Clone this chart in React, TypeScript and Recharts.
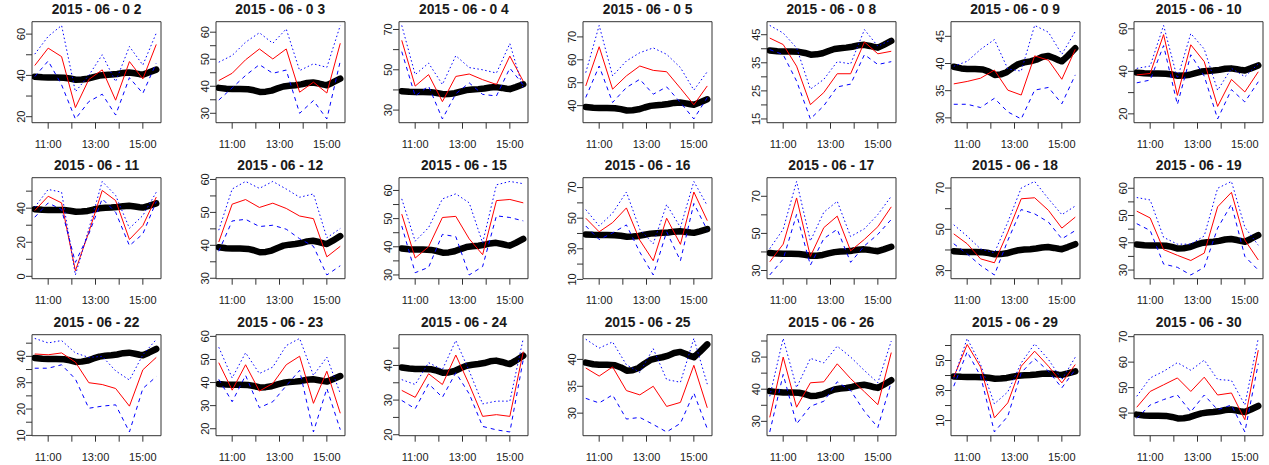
import { LineChart, Line, XAxis, YAxis, ReferenceArea } from 'recharts';

// 21 daily panels (R-style small multiples): red = daily value, blue dotted/dashed =
// upper/lower band, thick black = the common reference curve shared by every panel.

const TITLES = [
  '2015 - 06 - 0 2', '2015 - 06 - 0 3', '2015 - 06 - 0 4', '2015 - 06 - 0 5', '2015 - 06 - 0 8', '2015 - 06 - 0 9', '2015 - 06 - 10',
  '2015 - 06 - 11', '2015 - 06 - 12', '2015 - 06 - 15', '2015 - 06 - 16', '2015 - 06 - 17', '2015 - 06 - 18', '2015 - 06 - 19',
  '2015 - 06 - 22', '2015 - 06 - 23', '2015 - 06 - 24', '2015 - 06 - 25', '2015 - 06 - 26', '2015 - 06 - 29', '2015 - 06 - 30',
];

// minutes since midnight
const TIMES = [626, 660, 694, 729, 763, 797, 831, 866, 900, 934];
const X_MIN = 619;
const X_MAX = 946;
const X_TICKS = [660, 720, 780, 840, 900];
const X_TICK_LABELS = ['11:00', '', '13:00', '', '15:00'];

const MEAN_TIMES = [626, 645, 660, 680, 700, 715, 730, 745, 760, 775, 790, 805, 820, 835, 850, 865, 880, 892, 900, 915, 934];
const MEAN = [39.4, 39.1, 39.0, 39.0, 38.9, 38.5, 37.9, 38.0, 38.4, 39.2, 39.9, 40.2, 40.4, 40.7, 41.2, 41.4, 41.0, 40.6, 40.4, 41.4, 42.8];

const MID = [
  [44.8, 53.2, 49.1, 24.4, 38, 42.7, 28, 46.7, 38.3, 55],
  [42.1, 44.8, 49.8, 53.8, 50.1, 53.8, 37.8, 41.5, 37.5, 55.9],
  [64.6, 41.9, 47.6, 34.2, 46.7, 47.9, 45.1, 42.7, 56.8, 44.3],
  [48.6, 65.7, 47.2, 53, 57.3, 55.4, 54.8, 47.6, 40.4, 48.6],
  [43.8, 41.5, 33.8, 20.1, 24.4, 31.1, 31.1, 42.4, 38.2, 39.1],
  [36.25, 36.7, 37.3, 38.8, 35.1, 34.2, 41.4, 40.6, 37.1, 42.6],
  [38.3, 39, 57.3, 28.7, 52.5, 44.6, 23.5, 36.2, 30.3, 39.8],
  [38.6, 47, 43.1, 3.3, 25.9, 50.4, 44.5, 21.6, 29.8, 46.5],
  [41, 52.5, 53.9, 51.5, 52.8, 51.2, 48.9, 48.1, 36.5, 39.7],
  [51.6, 36, 40, 50.4, 50.8, 42.8, 37.2, 56.4, 56.8, 55.6],
  [50, 41.1, 47.1, 56.7, 35.6, 22.2, 50, 32.9, 67.1, 48.4],
  [34.7, 44.2, 69.1, 37.6, 53.1, 59.3, 40.6, 46.8, 53.6, 64.3],
  [47.8, 43, 35.7, 33.8, 48.6, 64.8, 65.3, 59.2, 50.6, 55.9],
  [51.6, 49.1, 37.5, 35.4, 33.5, 36.2, 53.2, 58.5, 41, 33.7],
  [40.9, 40.6, 41.3, 37.8, 30, 29.3, 27.8, 21.1, 34.9, 39.6],
  [48.6, 36.7, 47.7, 36.3, 39.6, 47.7, 51.4, 31, 44.9, 26.7],
  [32.8, 30.8, 37.6, 34.5, 43, 34.5, 25.3, 25.8, 25.3, 44],
  [38.4, 36.9, 38.6, 34.2, 33.4, 35, 31.25, 32, 38.9, 31],
  [31.25, 50, 34.4, 42, 42.3, 47.9, 43.3, 39.2, 35.2, 51.4],
  [38.9, 60.7, 45.6, 11.8, 21.8, 46.2, 56.2, 46.2, 35.1, 47.3],
  [42.3, 48.5, 51.1, 53.8, 48.5, 54.1, 47.1, 47.9, 37.4, 64.7],
];

const UPPER = [
  [50.3, 58.9, 64.2, 32.1, 40, 50, 37, 54, 45, 60.5],
  [48.9, 51.4, 56.3, 59.8, 55.9, 61.2, 45.8, 48.3, 47, 62.5],
  [72, 47.6, 53.3, 42.7, 57, 51.1, 50, 48.4, 63, 40.5],
  [54.4, 75, 53, 59.5, 63.1, 65.2, 62.4, 56.6, 46.8, 54.8],
  [48.3, 45.6, 40.3, 25.6, 29.1, 35.4, 34.6, 46.8, 40.9, 43.2],
  [39.5, 40.4, 42.6, 44.4, 39, 38.6, 47, 45.75, 41.7, 45.9],
  [41.4, 42.5, 61.6, 36.7, 57.8, 50.5, 31.1, 41.4, 37.5, 43.5],
  [40.6, 51, 49.4, 0.8, 27.8, 55.7, 47.5, 28.2, 35.7, 49.4],
  [44.6, 57.1, 59.4, 57.3, 59.4, 57.1, 54.6, 55.6, 42.3, 45.1],
  [57, 42, 46.8, 57, 58.8, 55.6, 41.4, 62, 63.2, 62.4],
  [55.6, 44.9, 53.3, 67.1, 42.7, 33.3, 58.9, 44, 74, 58.2],
  [41.8, 52.2, 78, 45.9, 61.4, 67.3, 48.3, 52.5, 60.2, 70],
  [52.2, 46.7, 40.5, 38.6, 53.5, 70, 73.2, 64.8, 57.1, 61.3],
  [56.6, 55.7, 42, 39.5, 39.5, 42.5, 60, 62.5, 45.7, 39.1],
  [46.8, 45.1, 46, 41.3, 39.6, 40, 34.5, 31, 40.6, 46.4],
  [55.3, 42, 52.9, 43.9, 46.7, 56, 59.1, 43.1, 51, 35.3],
  [35.9, 34.5, 40.8, 38.8, 47.2, 38.4, 28.9, 29.7, 29.7, 47.8],
  [43.75, 42.1, 43.25, 39, 37.6, 42, 36.25, 35.75, 43.9, 35.4],
  [37.8, 55.8, 40.5, 49.6, 48.2, 53.4, 50, 45.8, 42, 55],
  [38, 64.7, 47.3, 21.1, 29.1, 48.4, 61.1, 50.7, 37.3, 52.2],
  [46.6, 53.8, 56.4, 59.8, 56.8, 60.8, 53.2, 52.8, 43.2, 69.3],
];

const LOWER = [
  [39.4, 47, 35.4, 18.9, 27.3, 30.9, 20.8, 38.9, 31.3, 46],
  [34.9, 39.4, 44, 48, 44.8, 46, 30, 34.7, 27.9, 49.3],
  [59, 37, 41.9, 25.6, 38.1, 43.5, 37.8, 37, 50.8, 42.5],
  [43.6, 57.3, 41.4, 47.9, 51.5, 45, 48.2, 41.4, 34.2, 43.6],
  [39.7, 37.9, 28.5, 15, 19.7, 26.4, 27.4, 37.9, 34.4, 35.4],
  [32.5, 32.5, 31.9, 33.6, 31.1, 29.8, 35.1, 35.6, 32.6, 37.9],
  [34.6, 35.9, 52.1, 24.4, 47.8, 37.8, 17.6, 31.4, 25.6, 35.1],
  [34.7, 43.1, 39.2, 8.2, 24.9, 45.5, 37.6, 18, 24.9, 43.9],
  [38.2, 47.4, 47.9, 45.7, 46.1, 44.9, 42, 39.7, 31, 33.8],
  [47.4, 30.8, 32.7, 44.4, 43.6, 30, 33, 51, 50.4, 49.2],
  [44.9, 36, 40.4, 45.6, 27.8, 12.9, 41.1, 22.2, 59.6, 42.2],
  [27.6, 36.1, 60.2, 32.9, 47.2, 52.2, 34.4, 43.3, 49.5, 57.5],
  [43, 38.1, 32.5, 27.9, 44.6, 59.6, 57.5, 53.5, 45.4, 49.4],
  [47, 44.5, 32.2, 31, 28.2, 31, 45.4, 54.1, 35, 30],
  [35.5, 35.5, 36.8, 31.4, 20.3, 21.1, 21.6, 11.3, 27.8, 32.3],
  [41.4, 31.7, 43.1, 29.1, 31.7, 38.6, 45.3, 18.6, 37.4, 19.6],
  [29.9, 27.5, 34.7, 30.8, 37.9, 31.8, 22.4, 21.4, 20.8, 41.7],
  [32.75, 31.9, 33.4, 28.9, 29.2, 27.9, 26.5, 28.1, 33.75, 27.1],
  [26.7, 44.6, 29.2, 34.7, 36.25, 42.3, 39.6, 33.1, 28.1, 42.3],
  [32.9, 55.8, 39.6, 2.4, 12.9, 41.8, 51.3, 42.9, 31.8, 44],
  [37.9, 43.2, 45.3, 47.1, 40.5, 47.1, 41.3, 43.2, 32.6, 59.4],
];

const Y_TICKS = [
  [20, 30, 40, 50, 60], [30, 35, 40, 45, 50, 55, 60], [30, 40, 50, 60, 70], [40, 50, 60, 70],
  [15, 20, 25, 30, 35, 40, 45], [30, 35, 40, 45], [20, 30, 40, 50, 60],
  [0, 10, 20, 30, 40, 50], [30, 35, 40, 45, 50, 55, 60], [30, 35, 40, 45, 50, 55, 60], [10, 20, 30, 40, 50, 60, 70],
  [30, 40, 50, 60, 70], [30, 40, 50, 60, 70], [30, 35, 40, 45, 50, 55, 60],
  [10, 15, 20, 25, 30, 35, 40, 45], [20, 30, 40, 50, 60], [20, 25, 30, 35, 40, 45], [30, 35, 40],
  [30, 35, 40, 45, 50, 55], [10, 20, 30, 40, 50, 60], [40, 50, 60, 70],
];

const Y_LABELS = [
  [20, 40, 60], [30, 40, 50, 60], [30, 50, 70], [40, 50, 60, 70], [15, 25, 35, 45], [30, 35, 40, 45], [20, 40, 60],
  [0, 20, 40], [30, 40, 50, 60], [30, 40, 50, 60], [10, 30, 50, 70], [30, 50, 70], [30, 50, 70], [30, 40, 50, 60],
  [10, 20, 30, 40], [20, 30, 40, 50, 60], [20, 30, 40], [30, 35, 40], [30, 40, 50], [10, 30, 50], [40, 50, 60, 70],
];

const FONT = '"Liberation Sans", Arial, Helvetica, sans-serif';
const INK = '#1a1a1a';
const FRAME = '#333';

const COL_STEP = 183.7;
const ROW_STEP = 156.3;
const CELL_W = 176;
const CELL_H = 156;
const BOX_LEFT = 32;
const BOX_TOP = 21.7;
const BOX_W = 129;
const BOX_H = 101;
const Y_AXIS_W = 30;
const X_AXIS_H = 30;

function buildRows(i: number) {
  const rows = new Map<number, any>();
  TIMES.forEach((t, k) => rows.set(t, { t, mid: MID[i][k], upper: UPPER[i][k], lower: LOWER[i][k] }));
  MEAN_TIMES.forEach((t, k) => {
    const r = rows.get(t) ?? { t };
    r.mean = MEAN[k];
    rows.set(t, r);
  });
  return [...rows.values()].sort((a, b) => a.t - b.t);
}

function yDomain(i: number): [number, number] {
  const all = [...MID[i], ...UPPER[i], ...LOWER[i], ...MEAN];
  const lo = Math.min(...all);
  const hi = Math.max(...all);
  const pad = (hi - lo) * 0.04;
  return [lo - pad, hi + pad];
}

function Panel({ i }: { i: number }) {
  const col = i % 7;
  const row = Math.floor(i / 7);
  const [lo, hi] = yDomain(i);
  const labels = Y_LABELS[i];

  const yTick = (p: any) => {
    if (!labels.includes(p.payload.value)) return <g />;
    const cx = p.x - 4.5;
    return (
      <text x={cx} y={p.y} transform={`rotate(-90 ${cx} ${p.y})`} textAnchor="middle"
        dominantBaseline="central" fontFamily={FONT} fontSize={11} fill={INK}>
        {p.payload.value}
      </text>
    );
  };
  const xTick = (p: any) => {
    const label = X_TICK_LABELS[X_TICKS.indexOf(p.payload.value)];
    if (!label) return <g />;
    return (
      <text x={p.x} y={p.y + 15} textAnchor="middle" dominantBaseline="central"
        fontFamily={FONT} fontSize={11} fill={INK}>
        {label}
      </text>
    );
  };

  return (
    <div style={{ position: 'absolute', left: col * COL_STEP, top: row * ROW_STEP, width: CELL_W, height: CELL_H }}>
      <div style={{
        position: 'absolute', left: BOX_LEFT, width: BOX_W, top: 2.2, textAlign: 'center',
        fontFamily: FONT, fontWeight: 'bold', fontSize: 13.8, lineHeight: '16px', color: INK, whiteSpace: 'nowrap',
      }}>
        {TITLES[i]}
      </div>
      <LineChart
        width={CELL_W}
        height={CELL_H}
        data={buildRows(i)}
        margin={{
          top: BOX_TOP,
          left: BOX_LEFT - Y_AXIS_W,
          right: CELL_W - BOX_LEFT - BOX_W,
          bottom: CELL_H - BOX_TOP - BOX_H - X_AXIS_H,
        }}
      >
        <XAxis dataKey="t" type="number" domain={[X_MIN, X_MAX]} ticks={X_TICKS} interval={0}
          allowDataOverflow axisLine={false} tickSize={6} tickMargin={0} stroke={FRAME}
          height={X_AXIS_H} tick={xTick} />
        <YAxis type="number" domain={[lo, hi]} ticks={Y_TICKS[i]} interval={0}
          allowDataOverflow axisLine={false} tickSize={6} tickMargin={0} stroke={FRAME}
          width={Y_AXIS_W} tick={yTick} />
        <Line dataKey="mean" stroke="#000" strokeWidth={6.5} strokeLinecap="round" strokeLinejoin="round"
          dot={false} connectNulls isAnimationActive={false} />
        <Line dataKey="mid" stroke="#ff0000" strokeWidth={1} dot={false} connectNulls isAnimationActive={false} />
        <Line dataKey="upper" stroke="#0000ff" strokeWidth={1} strokeDasharray="1.5 2.5" dot={false}
          connectNulls isAnimationActive={false} />
        <Line dataKey="lower" stroke="#0000ff" strokeWidth={1} strokeDasharray="4 4" dot={false}
          connectNulls isAnimationActive={false} />
        <ReferenceArea x1={X_MIN} x2={X_MAX} y1={lo} y2={hi} fill="none" fillOpacity={0}
          stroke={FRAME} strokeWidth={1} ifOverflow="visible" />
      </LineChart>
    </div>
  );
}

export default function App() {
  return (
    <div style={{ position: 'absolute', left: 0, top: 0, width: 1269, height: 465, overflow: 'hidden', background: '#fff' }}>
      {TITLES.map((_, i) => <Panel key={i} i={i} />)}
    </div>
  );
}
